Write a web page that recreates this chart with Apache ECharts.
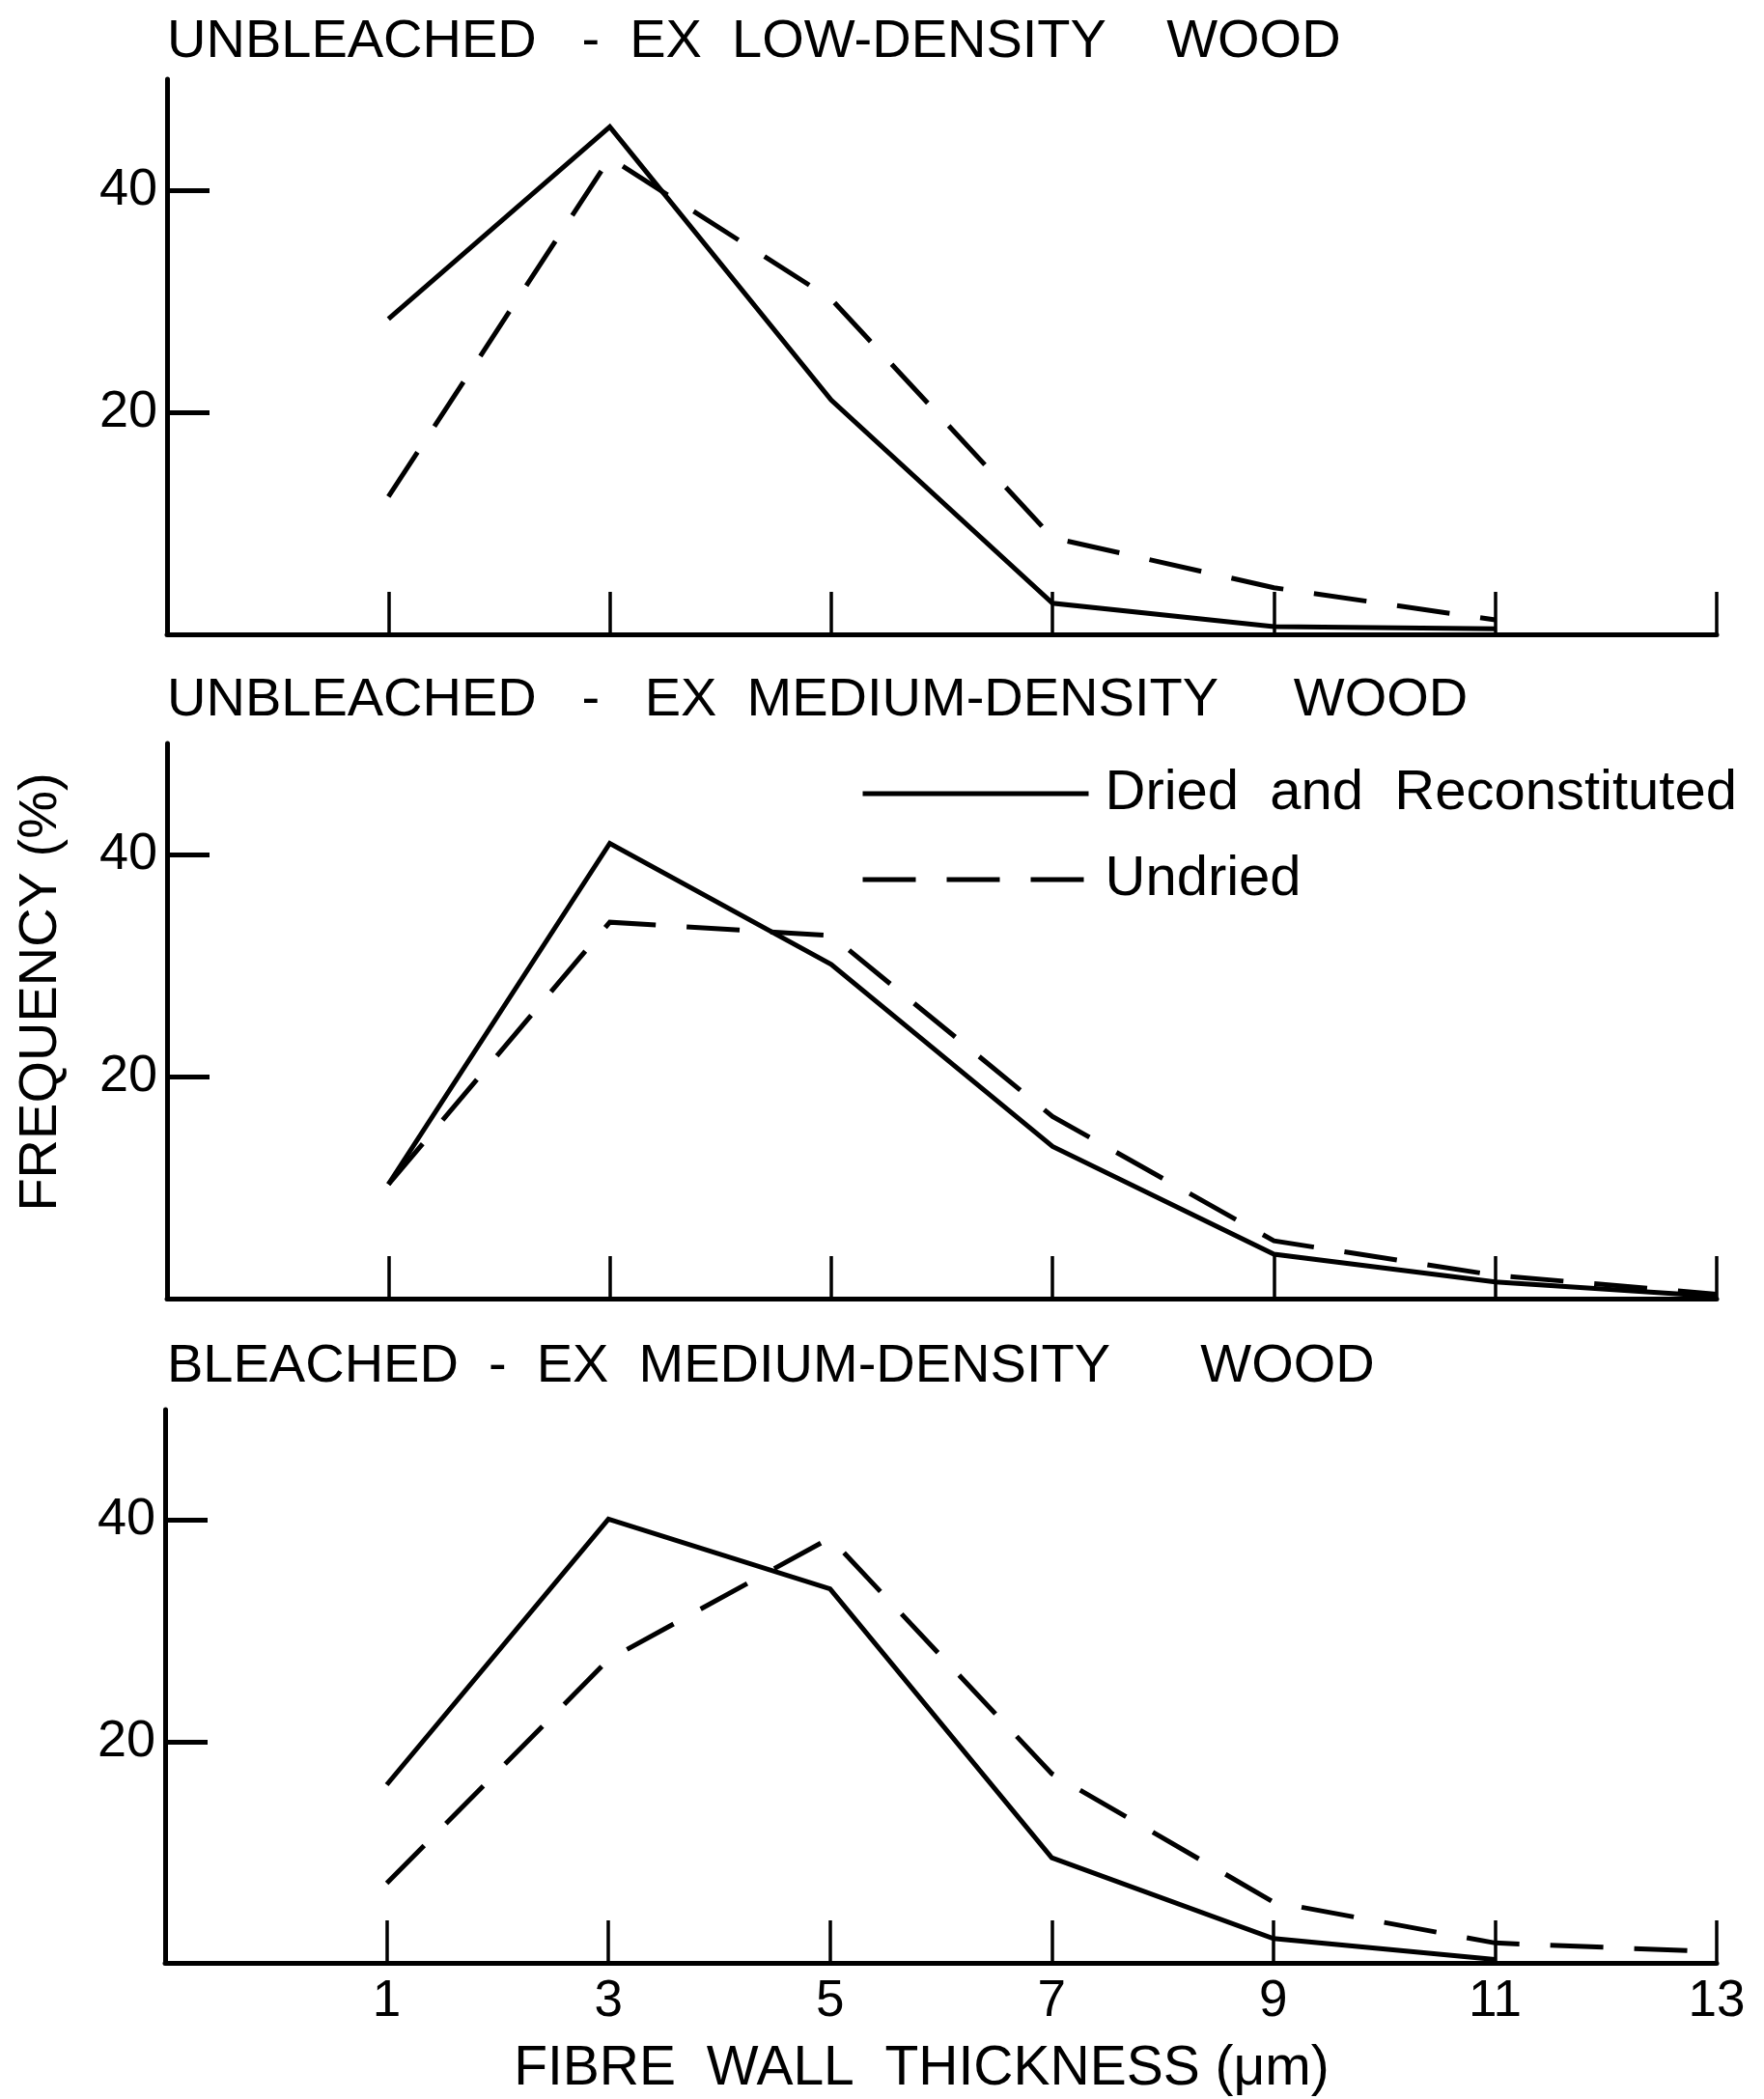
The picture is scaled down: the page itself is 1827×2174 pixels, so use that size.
<!DOCTYPE html>
<html>
<head>
<meta charset="utf-8">
<script src="https://cdn.jsdelivr.net/npm/echarts@6/dist/echarts.min.js"></script>
<style>
  html, body { margin: 0; padding: 0; background: #fff; }
  #chart { width: 1827px; height: 2174px; }
</style>
</head>
<body>
<div id="chart"></div>
<script>
// fibre wall thickness classes (um)
var thickness = [1, 3, 5, 7, 9, 11, 13];
var xTicks = [1, 3, 5, 7, 9, 11, 13];
var yTicks = [20, 40];

// frequency (%), null = no point
var lowDried = [28.4, 45.7, 21.1, 2.8, 0.7, 0.5, null];
var lowUndried = [12.4, 42.9, 30.2, 8.7, 4.2, 1.3, null];
var medDried = [10.3, 41.0, 30.1, 13.7, 4.0, 1.5, 0.2];
var medUndried = [10.3, 33.9, 32.7, 16.4, 5.2, 2.1, 0.4];
var bleDried = [16.1, 40.1, 33.8, 9.5, 2.2, 0.3, null];
var bleUndried = [7.2, 27.4, 38.4, 17.1, 5.5, 1.8, 1.0];

// wide word gaps as in the original lettering
var panelTitles = [
    'UNBLEACHED   -  EX  LOW-DENSITY    WOOD',
    'UNBLEACHED   -   EX  MEDIUM-DENSITY     WOOD',
    'BLEACHED  -  EX  MEDIUM-DENSITY      WOOD'
];
var seriesNames = ['Dried and Reconstituted', 'Undried'];
var legendLabels = ['Dried  and  Reconstituted', 'Undried'];
var xName = 'FIBRE  WALL  THICKNESS (μm)';
var yName = 'FREQUENCY (%)';

var font = 'Liberation Sans';

function pairs(vals) {
    var out = [];
    for (var i = 0; i < thickness.length; i++) {
        if (vals[i] != null) out.push([thickness[i], vals[i]]);
    }
    return out;
}

var chart = echarts.init(document.getElementById('chart'));

var grids = [
    {left: 173, right: 49, top: 82, height: 575},
    {left: 173, right: 49, top: 770, height: 575},
    {left: 171, right: 49, top: 1460, height: 573}
];

var titleTops = [16, 698, 1388];

var xAxes = [], yAxes = [];
for (var g = 0; g < 3; g++) {
    xAxes.push({
        gridIndex: g,
        type: 'value',
        min: -1,
        max: 13,
        axisLine: {onZero: false, lineStyle: {color: '#000', width: 5}},
        axisTick: {
            inside: true,
            length: 44,
            customValues: xTicks,
            lineStyle: {color: '#000', width: 3.5}
        },
        axisLabel: {
            show: g === 2,
            customValues: xTicks,
            margin: 14,
            color: '#000',
            fontFamily: font,
            fontSize: 53
        },
        splitLine: {show: false},
        name: g === 2 ? xName : '',
        nameLocation: 'middle',
        nameGap: 82,
        nameTextStyle: {color: '#000', fontFamily: font, fontSize: 57, padding: [0, 40, 0, 0]}
    });
    yAxes.push({
        gridIndex: g,
        type: 'value',
        min: 0,
        max: 50,
        axisLine: {show: true, onZero: false, lineStyle: {color: '#000', width: 5}},
        axisTick: {
            show: true,
            inside: true,
            length: 44,
            customValues: yTicks,
            lineStyle: {color: '#000', width: 5}
        },
        axisLabel: {
            customValues: yTicks,
            margin: 10,
            color: '#000',
            fontFamily: font,
            fontSize: 54
        },
        splitLine: {show: false},
        name: g === 1 ? yName : '',
        nameLocation: 'middle',
        nameRotate: 90,
        nameGap: 102,
        nameTextStyle: {color: '#000', fontFamily: font, fontSize: 56, padding: [0, 0, 0, 60]}
    });
}

var panels = [[lowDried, lowUndried], [medDried, medUndried], [bleDried, bleUndried]];
var series = [];
panels.forEach(function (p, g) {
    series.push({
        name: seriesNames[0],
        type: 'line',
        xAxisIndex: g,
        yAxisIndex: g,
        symbol: 'none',
        itemStyle: {color: '#000'},
        lineStyle: {color: '#000', width: 5, type: 'solid', join: 'miter'},
        data: pairs(p[0])
    });
    series.push({
        name: seriesNames[1],
        type: 'line',
        xAxisIndex: g,
        yAxisIndex: g,
        symbol: 'none',
        itemStyle: {color: '#000'},
        lineStyle: {color: '#000', width: 5, type: [55, 32], join: 'miter'},
        data: pairs(p[1])
    });
});

option = {
    animation: false,
    backgroundColor: '#fff',
    title: panelTitles.map(function (t, i) {
        return {
            text: t,
            left: 173,
            top: titleTops[i],
            padding: 0,
            textStyle: {color: '#000', fontFamily: font, fontSize: 56, fontWeight: 'normal'}
        };
    }),
    legend: {
        data: seriesNames,
        orient: 'vertical',
        left: 891,
        top: 793,
        padding: 0,
        itemWidth: 234,
        itemHeight: 20,
        itemGap: 31,
        selectedMode: false,
        itemStyle: {opacity: 0},
        lineStyle: {width: 5},
        formatter: function (name) {
            return legendLabels[seriesNames.indexOf(name)];
        },
        textStyle: {color: '#000', fontFamily: font, fontSize: 58, padding: [0, 0, 0, 12]}
    },
    grid: grids,
    xAxis: xAxes,
    yAxis: yAxes,
    series: series
};

chart.setOption(option);
</script>
</body>
</html>
